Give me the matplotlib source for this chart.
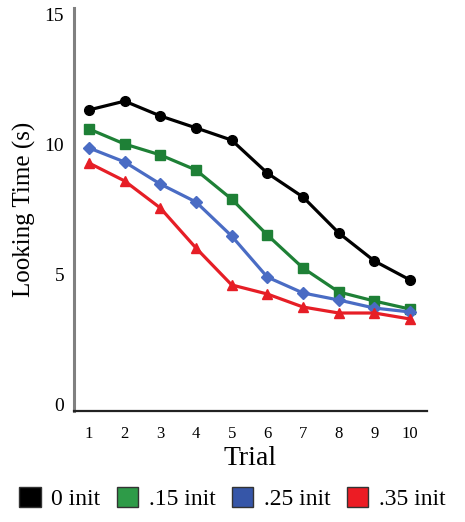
import matplotlib
matplotlib.use("Agg")
import matplotlib.pyplot as plt
from matplotlib.patches import Patch

plt.rcParams["font.family"] = ["Liberation Serif", "DejaVu Serif"]

trials = [1, 2, 3, 4, 5, 6, 7, 8, 9, 10]
init_0 = [11.31, 11.65, 11.08, 10.62, 10.15, 8.88, 7.96, 6.58, 5.50, 4.77]
init_15 = [10.58, 10.00, 9.58, 9.00, 7.88, 6.50, 5.23, 4.31, 3.96, 3.65]
init_25 = [9.85, 9.31, 8.46, 7.77, 6.46, 4.88, 4.27, 4.00, 3.69, 3.54]
init_35 = [9.27, 8.58, 7.54, 6.00, 4.58, 4.23, 3.73, 3.50, 3.50, 3.27]
labels = ["0 init", ".15 init", ".25 init", ".35 init"]

line_colors = ["black", "#1e8036", "#4a6cc4", "#e61e26"]
patch_colors = ["black", "#2e9b48", "#3656a8", "#ec1c24"]
markers = ["o", "s", "D", "^"]
msizes = [7, 7, 6, 7]

fig = plt.figure(figsize=(4.65, 5.22), dpi=100)
ax = fig.add_axes([0.159, 0.2126, 0.759, 0.772])

for vals, c, m, ms in zip([init_0, init_15, init_25, init_35], line_colors, markers, msizes):
    ax.plot(trials, vals, color=c, marker=m, markersize=ms, linewidth=2.3)

ax.set_xlim(0.58, 10.47)
ax.set_ylim(-0.27, 15.23)
ax.set_xticks(trials)
ax.set_yticks([0, 5, 10, 15])
ax.tick_params(length=0)
ax.tick_params(axis="x", pad=11, labelsize=12)
ax.tick_params(axis="y", pad=7, labelsize=14)

for s in ["top", "right"]:
    ax.spines[s].set_visible(False)
ax.spines["left"].set_color("#808080")
ax.spines["left"].set_linewidth(2.2)
ax.spines["bottom"].set_color("#222222")
ax.spines["bottom"].set_linewidth(1.6)

ax.set_xlabel("Trial", fontsize=20, labelpad=3)
ax.set_ylabel("Looking Time (s)", fontsize=18, labelpad=6)

handles = [Patch(facecolor=c, edgecolor="#333333", linewidth=1) for c in patch_colors]
fig.legend(handles, labels, loc="lower center", bbox_to_anchor=(0.5, -0.005), ncol=4,
           frameon=False, fontsize=17, handlelength=0.9, handleheight=0.9,
           handletextpad=0.45, columnspacing=0.7, borderaxespad=0.2)

fig.savefig("out.png", dpi=100)
